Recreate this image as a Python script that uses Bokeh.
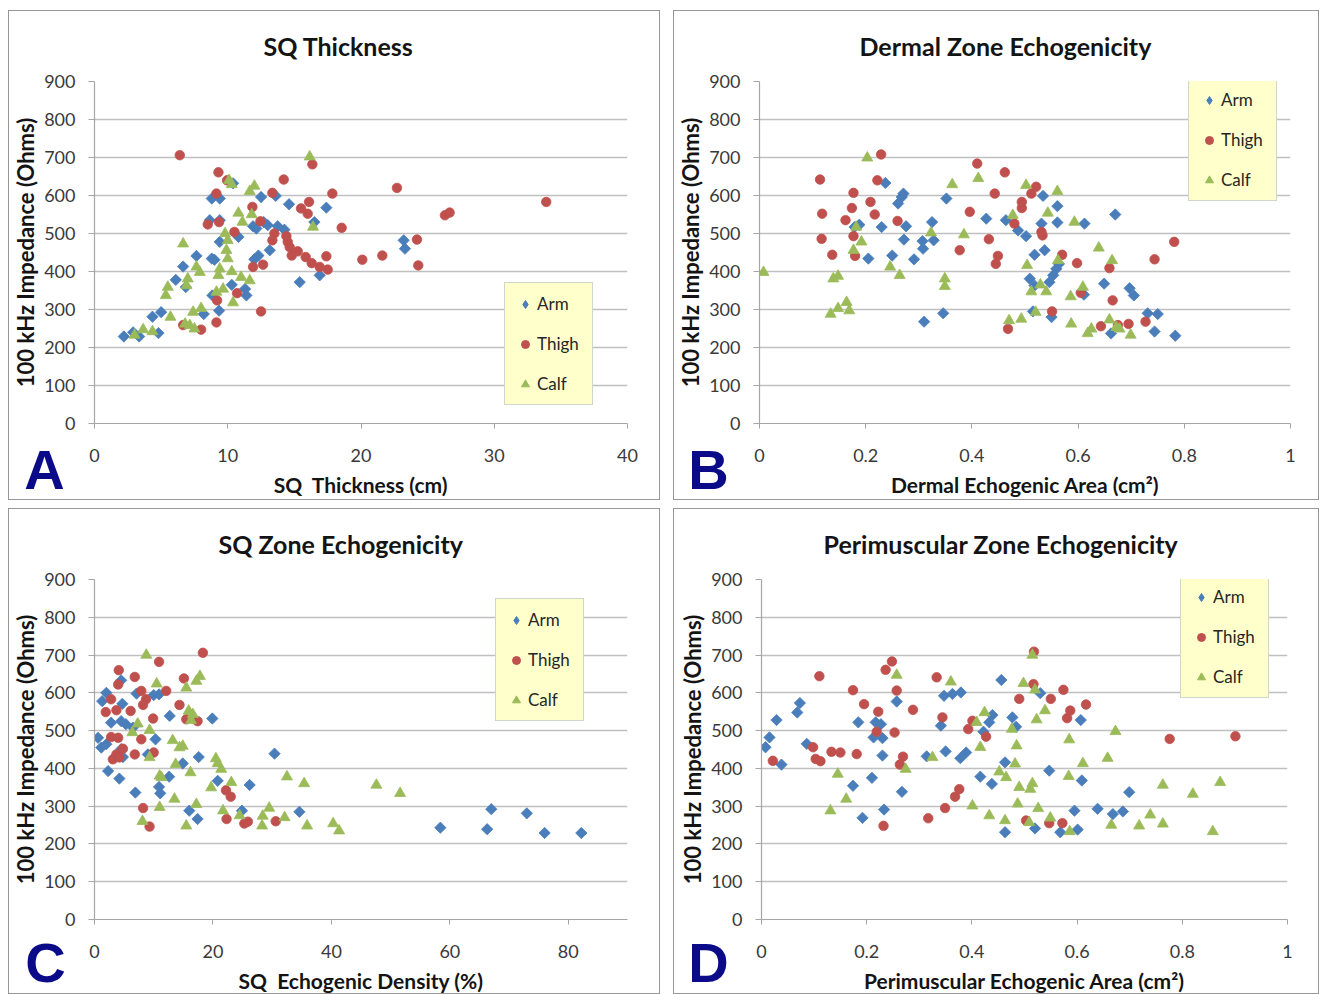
import math
import numpy as np
from bokeh.plotting import figure
from bokeh.models import (Range1d, FixedTicker, Legend, LegendItem, Spacer, GridBox, Title, Div)
from bokeh.layouts import row, column
from bokeh.core.properties import value
from bokeh.embed import file_html
from bokeh.resources import INLINE

# ---------------- data (x, impedance in Ohms) ----------------
a_arm = [(2.2,229),(2.9,240),(3.35,229),(4.8,238),(4.35,281),(5.0,293),(6.1,378),(6.65,413),(7.65,441),(6.85,359),
         (8.8,592),(9.4,592),(10.4,632),(8.65,535),(9.4,535),(9.4,478),(10.8,491),(8.8,434),(9.0,431),(8.85,337),
         (9.35,297),(10.3,365),(11.3,354),(11.4,337),(12.5,596),(11.9,519),(12.15,513),(12.7,530),(13.0,522),(13.75,519),
         (14.25,510),(13.15,456),(12.3,442),(12.0,432),(14.6,577),(17.4,568),(16.5,530),(15.4,372),(16.9,390),(8.2,288),
         (13.6,599),(23.2,482),(23.3,460)]
a_thigh = [(6.4,706),(9.3,661),(9.95,640),(9.15,605),(13.35,607),(14.2,642),(17.85,605),(16.1,583),(15.5,566),(16.0,552),
           (11.85,570),(8.5,524),(9.35,530),(10.5,504),(12.45,532),(18.55,515),(13.5,500),(13.35,482),(14.4,493),(14.5,478),
           (14.65,464),(15.25,453),(14.8,442),(15.85,438),(16.3,422),(17.4,440),(16.9,412),(17.5,405),(11.9,412),(12.65,418),
           (10.7,343),(9.2,324),(9.15,266),(12.5,295),(6.65,259),(8.0,247),(20.1,431),(16.35,682),(22.7,620),(33.9,583),
           (26.3,548),(26.65,555),(21.6,442),(24.2,484),(24.3,416)]
a_calf = [(16.15,702),(10.1,640),(10.3,629),(11.65,611),(12.0,625),(10.8,554),(11.8,550),(11.1,530),(9.8,500),(10.0,482),
          (9.9,456),(10.0,434),(9.4,407),(9.3,390),(10.3,400),(11.0,385),(11.65,376),(9.15,346),(9.65,354),(10.4,318),
          (6.65,473),(7.65,412),(7.9,398),(7.0,381),(6.9,363),(5.5,359),(5.35,337),(5.7,280),(7.4,293),(8.0,303),
          (6.8,262),(7.15,258),(7.5,249),(3.65,247),(4.35,242),(3.0,233),(16.4,517)]

b_arm = [(0.237,633),(0.271,605),(0.261,579),(0.268,596),(0.188,523),(0.179,517),(0.23,517),(0.276,519),(0.272,484),(0.205,434),
         (0.25,442),(0.291,432),(0.307,480),(0.308,460),(0.325,530),(0.328,482),(0.352,592),(0.31,268),(0.346,290),(0.427,539),
         (0.464,535),(0.487,508),(0.502,493),(0.518,444),(0.509,381),(0.518,363),(0.515,295),(0.534,599),(0.561,572),(0.531,526),
         (0.561,529),(0.612,526),(0.67,550),(0.537,456),(0.546,372),(0.553,390),(0.559,407),(0.564,420),(0.55,280),(0.611,339),
         (0.649,368),(0.697,356),(0.705,337),(0.731,290),(0.75,288),(0.744,242),(0.783,231),(0.662,237)]
b_thigh = [(0.229,708),(0.114,642),(0.222,640),(0.177,607),(0.209,583),(0.174,567),(0.118,552),(0.217,550),(0.162,535),(0.26,533),
           (0.177,493),(0.117,486),(0.137,444),(0.18,441),(0.41,684),(0.462,661),(0.443,605),(0.396,557),(0.432,485),(0.377,456),
           (0.449,441),(0.445,420),(0.512,605),(0.521,623),(0.494,583),(0.494,567),(0.48,526),(0.468,249),(0.531,504),(0.533,495),
           (0.57,444),(0.598,422),(0.659,409),(0.744,432),(0.781,478),(0.665,324),(0.605,344),(0.551,295),(0.643,256),(0.675,259),
           (0.695,262),(0.727,268)]
b_calf = [(0.0075,398),(0.203,699),(0.139,381),(0.148,388),(0.134,288),(0.148,303),(0.164,319),(0.169,297),(0.182,517),(0.192,478),
          (0.177,456),(0.246,412),(0.264,390),(0.323,502),(0.363,629),(0.385,497),(0.349,381),(0.349,361),(0.412,645),(0.47,271),
          (0.493,275),(0.477,548),(0.502,627),(0.504,416),(0.512,347),(0.52,293),(0.561,611),(0.543,554),(0.593,530),(0.639,462),
          (0.664,429),(0.562,429),(0.529,365),(0.54,347),(0.609,359),(0.586,334),(0.587,262),(0.618,237),(0.625,249),(0.659,273),
          (0.672,253),(0.678,249),(0.699,233)]

c_arm = [(4.5,633),(2.0,600),(1.3,578),(7.1,598),(10.0,594),(10.9,596),(4.7,571),(2.8,521),(4.5,525),(5.3,517),
         (6.5,508),(12.7,539),(19.9,532),(0.6,481),(1.15,455),(2.0,464),(4.8,430),(4.5,451),(10.3,477),(9.0,437),
         (2.3,393),(4.2,373),(6.9,336),(14.9,413),(17.6,430),(12.6,378),(10.9,351),(11.1,334),(20.8,367),(26.2,356),
         (30.4,439),(16.0,288),(17.4,266),(24.9,288),(34.6,285),(58.4,243),(67.0,292),(66.3,239),(73.0,281),(76.0,229),
         (82.2,229)]
c_thigh = [(18.3,706),(10.9,682),(4.1,660),(6.8,642),(15.1,638),(4.0,622),(7.9,605),(8.7,583),(8.2,568),(12.1,605),
           (2.8,583),(3.7,554),(1.9,549),(6.1,552),(14.35,568),(9.9,532),(15.5,530),(17.4,525),(2.8,483),(4.0,481),
           (7.9,477),(4.8,452),(3.7,437),(3.1,424),(4.2,429),(6.8,437),(10.0,442),(22.2,342),(23.0,325),(8.2,295),
           (9.3,246),(22.3,266),(25.3,254),(25.9,259),(30.6,260)]
c_calf = [(8.75,700),(10.5,624),(15.5,613),(17.2,631),(17.8,644),(15.9,552),(16.6,543),(16.3,527),(7.3,518),(6.4,495),
          (9.3,501),(13.2,474),(14.35,455),(14.9,459),(9.3,429),(13.7,411),(16.2,389),(11.0,380),(11.3,376),(19.7,349),
          (23.1,363),(20.5,426),(20.8,413),(21.4,398),(13.5,319),(11.0,297),(8.1,260),(17.2,305),(15.5,248),(21.7,288),
          (24.5,275),(28.3,248),(29.5,295),(32.1,270),(32.5,378),(35.4,360),(35.9,248),(40.3,254),(41.3,235),(47.6,356),
          (51.6,334),(28.4,274)]

d_arm = [(0.0076,456),(0.0152,482),(0.0286,528),(0.038,410),(0.068,548),(0.073,573),(0.086,465),(0.174,354),(0.184,522),(0.21,375),
         (0.192,269),(0.213,482),(0.217,522),(0.227,517),(0.23,480),(0.23,434),(0.233,291),(0.257,577),(0.267,338),(0.314,432),
         (0.341,513),(0.35,445),(0.347,592),(0.363,597),(0.379,601),(0.378,427),(0.389,442),(0.416,378),(0.422,497),(0.433,522),
         (0.439,541),(0.438,359),(0.456,634),(0.463,416),(0.463,231),(0.477,535),(0.484,510),(0.53,599),(0.607,528),(0.547,394),
         (0.609,368),(0.699,337),(0.595,288),(0.639,293),(0.668,279),(0.687,286),(0.52,241),(0.568,231),(0.601,238)]
d_thigh = [(0.0216,420),(0.11,644),(0.098,456),(0.103,425),(0.112,419),(0.133,444),(0.15,442),(0.181,438),(0.174,607),(0.195,570),
           (0.222,550),(0.219,497),(0.236,661),(0.248,683),(0.257,606),(0.253,495),(0.269,431),(0.263,410),(0.288,555),(0.232,248),
           (0.317,268),(0.333,641),(0.344,535),(0.349,295),(0.368,325),(0.376,345),(0.393,504),(0.401,526),(0.427,484),(0.49,584),
           (0.503,262),(0.518,709),(0.517,623),(0.55,584),(0.574,608),(0.587,553),(0.581,533),(0.617,569),(0.776,478),(0.901,485),
           (0.547,255),(0.572,255)]
d_calf = [(0.257,647),(0.36,629),(0.498,625),(0.145,385),(0.131,288),(0.161,319),(0.274,398),(0.325,429),(0.424,548),(0.409,522),
          (0.416,456),(0.452,391),(0.465,376),(0.476,504),(0.485,460),(0.482,412),(0.401,301),(0.433,275),(0.463,262),(0.49,350),
          (0.487,306),(0.515,700),(0.52,608),(0.539,553),(0.523,529),(0.585,476),(0.673,498),(0.658,427),(0.611,413),(0.584,379),
          (0.511,345),(0.515,360),(0.763,356),(0.82,332),(0.872,363),(0.526,294),(0.549,269),(0.509,257),(0.586,233),(0.665,250),
          (0.718,248),(0.739,277),(0.763,253),(0.858,233)]

series_names = ["Arm", "Thigh", "Calf"]
y_ticks = [0, 100, 200, 300, 400, 500, 600, 700, 800, 900]
a_xticks = [0, 10, 20, 30, 40]
a_xlabels = ["0", "10", "20", "30", "40"]
b_xticks = [0, 0.2, 0.4, 0.6, 0.8, 1.0]
b_xlabels = ["0", "0.2", "0.4", "0.6", "0.8", "1"]
c_xticks = [0, 20, 40, 60, 80]
c_xlabels = ["0", "20", "40", "60", "80"]

titles = ["SQ Thickness", "Dermal Zone Echogenicity", "SQ Zone Echogenicity", "Perimuscular Zone Echogenicity"]
xtitles = ["SQ\u00a0 Thickness (cm)", "Dermal Echogenic Area (cm\u00b2)", "SQ\u00a0 Echogenic Density (%)",
           "Perimuscular Echogenic Area (cm\u00b2)"]
ytitle = "100 kHz Impedance (Ohms)"
letters = ["A", "B", "C", "D"]

COLORS = ["#4A7EBB", "#C0504D", "#9BBB59"]
FONT = "Lato"
LETTER_COLOR = "#0b0b8a"


def no_align(fig):
    try:
        fig.frame_align = False
        return True
    except Exception:
        return False


def make_panel(w, h, borders, xmax, xticks, xlabels, data, title, title_offset, xtitle, legend_loc):
    left, right, top, bottom = borders
    p = figure(width=w, height=h, x_range=Range1d(0, xmax), y_range=Range1d(0, 900),
               output_backend="svg", toolbar_location=None, tools="",
               min_border_left=left, min_border_right=right, min_border_top=top, min_border_bottom=bottom,
               background_fill_color="white", border_fill_color="white")
    no_align(p)
    p.styles = {"border": "1px solid #979797"}
    p.outline_line_color = None

    p.title = Title(text=title, align="left", offset=title_offset, vertical_align="top", standoff=38,
                    text_font=FONT, text_font_style="bold", text_font_size="25px", text_color="#141414")

    p.yaxis.ticker = FixedTicker(ticks=y_ticks)
    p.xaxis.ticker = FixedTicker(ticks=xticks)
    p.xaxis.major_label_overrides = dict(zip(xticks, xlabels))
    for ax in (p.xaxis[0], p.yaxis[0]):
        ax.axis_line_color = "#a6a6a6"
        ax.axis_line_width = 1.2
        ax.major_tick_line_color = "#a6a6a6"
        ax.major_tick_in = 0
        ax.minor_tick_line_color = None
        ax.major_label_text_font = FONT
        ax.major_label_text_font_size = "18px"
        ax.major_label_text_color = "#3a3a3a"
        ax.axis_label_text_font = FONT
        ax.axis_label_text_font_style = "bold"
        ax.axis_label_text_color = "#141414"
    p.yaxis.major_tick_out = 6
    p.yaxis.major_label_standoff = 13
    p.yaxis.axis_label = ytitle
    p.yaxis.axis_label_text_font_size = "22px"
    p.yaxis.axis_label_standoff = 2
    p.xaxis.major_tick_out = 5
    p.xaxis.major_label_standoff = 20
    p.xaxis.axis_label = xtitle
    p.xaxis.axis_label_text_font_size = "21px"
    p.xaxis.axis_label_standoff = 7

    p.xgrid.grid_line_color = None
    p.ygrid.grid_line_color = "#c0c0c0"
    p.ygrid.grid_line_width = 1.3

    markers = [("square", math.pi / 4, 8), ("circle", 0, 9.5), ("triangle", 0, 11)]
    legend_markers = ["diamond", "circle", "triangle"]
    items = []
    for pts, col, (mk, ang, sz), lmk, name in zip(data, COLORS, markers, legend_markers, series_names):
        xs = [pt[0] for pt in pts]
        ys = [pt[1] for pt in pts]
        p.scatter(xs, ys, marker=mk, angle=ang, size=sz, fill_color=col, line_color=col, line_width=0.8)
        # legend-only proxy (a single NaN row, never drawn inside the plot)
        proxy = p.scatter(np.array([np.nan]), np.array([np.nan]), marker=lmk, size=sz,
                          fill_color=col, line_color=col)
        items.append(LegendItem(label=name, renderers=[proxy]))

    legend = Legend(items=items, location=legend_loc, orientation="vertical",
                    background_fill_color="#FFFFCC", background_fill_alpha=1.0,
                    border_line_color="#9db0c8", border_line_width=1.5,
                    padding=10, spacing=19, margin=0,
                    glyph_width=20, glyph_height=20, label_height=20, label_width=45, label_standoff=2,
                    label_text_font=FONT, label_text_font_size="17px", label_text_color="#262626")
    p.add_layout(legend)
    return p


def make_letter(w, h, letter, pos):
    # transparent overlay (pixel space of the panel) that carries the big panel letter
    q = figure(width=w, height=h, x_range=Range1d(0, w), y_range=Range1d(h, 0),
               output_backend="svg", toolbar_location=None, tools="",
               x_axis_type=None, y_axis_type=None, min_border=0,
               background_fill_color=None, border_fill_color=None)
    if not no_align(q):
        return Div(text=('<div style="position:absolute;left:%dpx;top:%dpx;font-family:\'Liberation Sans\';'
                         'font-weight:bold;font-size:56px;line-height:56px;color:%s">%s</div>')
                   % (pos[0] - 20, pos[1] - 28, LETTER_COLOR, letter),
                   width=w, height=h, styles={"pointer-events": "none"})
    q.outline_line_color = None
    q.grid.visible = False
    q.text(x=[pos[0]], y=[pos[1]], text=[letter], text_font=value("Liberation Sans"),
           text_font_style="bold", text_font_size="56px", text_color=LETTER_COLOR,
           text_align="center", text_baseline="middle")
    return q


pA = make_panel(652, 490, (84, 34, 69, 78), 40, a_xticks, a_xlabels, [a_arm, a_thigh, a_calf],
                titles[0], 169, xtitles[0], (410, 18))
pB = make_panel(646, 490, (82, 30, 69, 78), 1.0, b_xticks, b_xlabels, [b_arm, b_thigh, b_calf],
                titles[1], 100, xtitles[1], (429, 222))
pC = make_panel(652, 486, (83, 34, 67, 75), 90, c_xticks, c_xlabels, [c_arm, c_thigh, c_calf],
                titles[2], 124, xtitles[2], (401, 198))
pD = make_panel(646, 486, (87, 33, 66, 76), 1.0, b_xticks, b_xlabels, [d_arm, d_thigh, d_calf],
                titles[3], 62, xtitles[3], (419, 221))

# letter centre positions inside each panel box
lA = make_letter(652, 490, letters[0], (36, 459))
lB = make_letter(646, 490, letters[1], (35, 459))
lC = make_letter(652, 486, letters[2], (37, 454))
lD = make_letter(646, 486, letters[3], (35, 454))

grid = GridBox(children=[
    (pA, 0, 0), (Spacer(width=13, height=10), 0, 1), (pB, 0, 2),
    (Spacer(width=10, height=8), 1, 0),
    (pC, 2, 0), (pD, 2, 2),
    (lA, 0, 0), (lB, 0, 2), (lC, 2, 0), (lD, 2, 2),
])

layout = column(Spacer(width=10, height=10), row(Spacer(width=8, height=10), grid))

open("out.html", "w").write(file_html(layout, INLINE))
